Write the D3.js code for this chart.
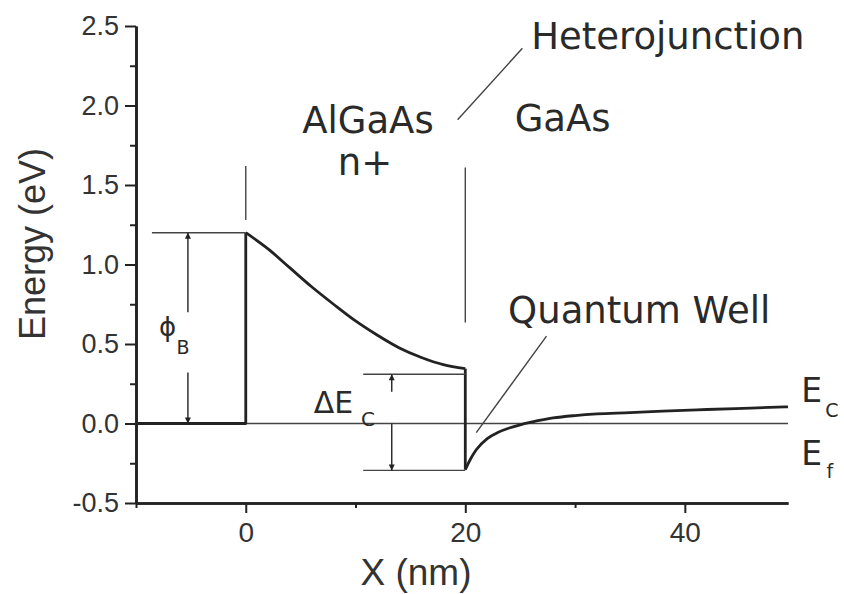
<!DOCTYPE html>
<html>
<head>
<meta charset="utf-8">
<script src="https://cdn.jsdelivr.net/npm/d3@7"></script>
<style>
  html, body { margin: 0; padding: 0; background: #fff; }
  svg { display: block; }
  .tick text { font-family: "Liberation Sans", Arial, sans-serif; fill: #333; }
</style>
</head>
<body>
<div id="chart"></div>
<script>
// band diagram values (x in nm, energy in eV)
var stepX = [-10, 0, 0];
var stepE = [0, 0, 1.2];
var barrierX = [0, 2, 4, 6, 8, 10, 12, 14, 16, 18, 20];
var barrierE = [1.2, 1.10, 0.98, 0.86, 0.75, 0.645, 0.555, 0.475, 0.415, 0.37, 0.345];
var dropX = [20, 20];
var dropE = [0.345, -0.29];
var wellX = [20, 20.5, 21, 22, 23, 24, 25, 26, 28, 30, 32, 35, 38, 42, 46, 49.4];
var wellE = [-0.29, -0.22, -0.165, -0.095, -0.055, -0.028, -0.008, 0.008, 0.035, 0.05, 0.06, 0.068, 0.078, 0.088, 0.097, 0.105];
var fermiX = [-10, 49.4];
var fermiE = [0, 0];

var yTicks = [-0.5, 0.0, 0.5, 1.0, 1.5, 2.0, 2.5];
var yMinor = [-0.25, 0.25, 0.75, 1.25, 1.75, 2.25];
var xTicks = [0, 20, 40];
var xMinor = [-10, 10, 30];

var width = 844, height = 594;
var x = d3.scaleLinear().domain([-10, 49.4]).range([136, 788]);
var y = d3.scaleLinear().domain([-0.5, 2.5]).range([503, 26]);

var svg = d3.select("#chart").append("svg")
  .attr("width", width)
  .attr("height", height);

var defs = svg.append("defs");
defs.append("marker")
  .attr("id", "arrow")
  .attr("viewBox", "0 0 10 10")
  .attr("refX", 10).attr("refY", 5)
  .attr("markerWidth", 9).attr("markerHeight", 6)
  .attr("markerUnits", "userSpaceOnUse")
  .attr("orient", "auto-start-reverse")
  .append("path")
  .attr("d", "M0,0 L10,5 L0,10 z")
  .attr("fill", "#222");

function pts(xs, es) {
  return xs.map(function(d, i) { return [d, es[i]]; });
}

var straight = d3.line().x(function(d) { return x(d[0]); }).y(function(d) { return y(d[1]); });
var smooth = d3.line().curve(d3.curveMonotoneX).x(function(d) { return x(d[0]); }).y(function(d) { return y(d[1]); });

// fermi level (thin)
svg.append("path").attr("d", straight(pts(fermiX, fermiE)))
  .attr("fill", "none").attr("stroke", "#444").attr("stroke-width", 1.5);

// conduction band edge (thick)
var band = svg.append("g").attr("fill", "none").attr("stroke", "#222")
  .attr("stroke-width", 2.8).attr("stroke-linejoin", "round");
band.append("path").attr("d", straight(pts(stepX, stepE)));
band.append("path").attr("d", smooth(pts(barrierX, barrierE)));
band.append("path").attr("d", straight(pts(dropX, dropE)));
band.append("path").attr("d", smooth(pts(wellX, wellE)));

// axes
var yAxis = d3.axisLeft(y).tickValues(yTicks).tickSize(11).tickPadding(6).tickSizeOuter(0)
  .tickFormat(function(d) { return d.toFixed(1); });
var yAxisMinor = d3.axisLeft(y).tickValues(yMinor).tickSize(6).tickFormat("").tickSizeOuter(0);
var xAxis = d3.axisBottom(x).tickValues(xTicks).tickSize(10).tickPadding(9).tickSizeOuter(0);
var xAxisMinor = d3.axisBottom(x).tickValues(xMinor).tickSize(5).tickFormat("").tickSizeOuter(0);

function styleAxis(g, fs) {
  g.select(".domain").attr("stroke", "#222").attr("stroke-width", 2.6);
  g.selectAll(".tick line").attr("stroke", "#222").attr("stroke-width", 2);
  g.selectAll(".tick text").attr("font-size", fs).attr("fill", "#3a3a3a");
}
svg.append("g").attr("transform", "translate(136,0)").call(yAxisMinor).call(styleAxis, 27);
svg.append("g").attr("transform", "translate(136,0)").call(yAxis).call(styleAxis, 27);
svg.append("g").attr("transform", "translate(0,503)").call(xAxisMinor).call(styleAxis, 28);
svg.append("g").attr("transform", "translate(0,503)").call(xAxis).call(styleAxis, 28);

// axis titles
svg.append("text")
  .attr("transform", "translate(45," + 244 + ") rotate(-90)")
  .attr("text-anchor", "middle")
  .attr("font-family", "Liberation Sans, Arial, sans-serif")
  .attr("font-size", 36).attr("fill", "#333")
  .text("Energy (eV)");
svg.append("text")
  .attr("x", 416).attr("y", 585)
  .attr("text-anchor", "middle")
  .attr("font-family", "Liberation Sans, Arial, sans-serif")
  .attr("font-size", 37).attr("fill", "#333")
  .text("X (nm)");

// thin annotation lines, in data units
var thin = svg.append("g").attr("fill", "none").attr("stroke", "#444").attr("stroke-width", 1.4);
var guideLines = [
  [[0, 1.28], [0, 1.62]],          // x=0 marker
  [[20, 0.635], [20, 1.61]],       // heterojunction marker
  [[-8.55, 1.2], [0, 1.2]],        // phi_B top
  [[10.7, 0.31], [20, 0.31]],      // dEc top
  [[10.7, -0.295], [20, -0.295]],  // dEc bottom
  [[19.3, 1.91], [25.2, 2.36]],    // heterojunction leader
  [[21.0, -0.057], [27.4, 0.55]]   // quantum well leader
];
guideLines.forEach(function(l) { thin.append("path").attr("d", straight(l)); });

var arrows = [
  [[-5.27, 0.70], [-5.27, 1.2]],
  [[-5.27, 0.32], [-5.27, 0]],
  [[13.3, 0.20], [13.3, 0.31]],
  [[13.3, 0.0], [13.3, -0.295]]
];
arrows.forEach(function(l) {
  svg.append("path").attr("d", straight(l))
    .attr("fill", "none").attr("stroke", "#222").attr("stroke-width", 1.4)
    .attr("marker-end", "url(#arrow)");
});

// labels
var labelFont = "DejaVu Sans, Verdana, sans-serif";
var labels = [
  { t: "Heterojunction", x: 26.0, e: 2.357, fs: 37, a: "start" },
  { t: "AlGaAs", x: 11.13, e: 1.824, fs: 37, a: "middle" },
  { t: "n+", x: 10.86, e: 1.566, fs: 37, a: "middle" },
  { t: "GaAs", x: 24.5, e: 1.838, fs: 37, a: "start" },
  { t: "Quantum Well", x: 23.9, e: 0.635, fs: 37, a: "start" },
  { t: "E", x: 50.6, e: 0.138, fs: 33, a: "start" },
  { t: "C", x: 52.8, e: 0.044, fs: 19, a: "start" },
  { t: "E", x: 50.6, e: -0.258, fs: 33, a: "start" },
  { t: "f", x: 52.9, e: -0.34, fs: 19, a: "start" },
  { t: "ΔE", x: 6.2, e: 0.069, fs: 30, a: "start" },
  { t: "C", x: 10.5, e: -0.018, fs: 20, a: "start" },
  { t: "ϕ", x: -7.9, e: 0.55, fs: 26, a: "start" },
  { t: "B", x: -6.3, e: 0.44, fs: 19, a: "start" }
];
svg.append("g").selectAll("text").data(labels).enter().append("text")
  .attr("x", function(d) { return x(d.x); })
  .attr("y", function(d) { return y(d.e); })
  .attr("text-anchor", function(d) { return d.a; })
  .attr("font-family", labelFont)
  .attr("font-size", function(d) { return d.fs; })
  .attr("fill", "#2a2a2a")
  .text(function(d) { return d.t; });
</script>
</body>
</html>
